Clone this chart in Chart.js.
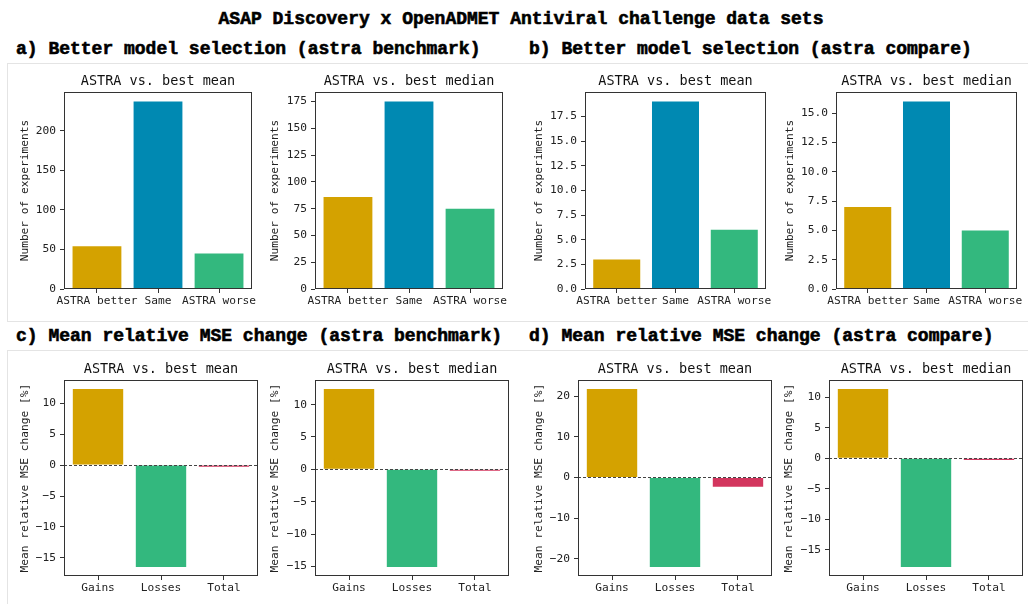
<!DOCTYPE html>
<html>
<head>
<meta charset="utf-8">
<script src="https://cdn.jsdelivr.net/npm/chart.js@4.4.0/dist/chart.umd.min.js"></script>
<style>
  body { margin: 0; background: #fff; width: 1028px; height: 604px; position: relative; overflow: hidden; }
  .head { position: absolute; font-family: 'Liberation Mono', monospace; font-weight: bold; font-size: 18px;
          color: #000; white-space: pre; line-height: 20px; -webkit-text-stroke: 0.6px #000; }
  .box { position: absolute; border: 1px solid #e4e4e4; }
  canvas { position: absolute; }
</style>
</head>
<body>
<div class="box" style="left:7px;top:63px;width:1040px;height:257px"></div>
<div class="box" style="left:7px;top:350px;width:1040px;height:300px"></div>

<div class="head" style="left:0;width:1042px;text-align:center;top:9px">ASAP Discovery x OpenADMET Antiviral challenge data sets</div>
<div class="head" style="left:16px;top:39px">a) Better model selection (astra benchmark)</div>
<div class="head" style="left:529px;top:39px">b) Better model selection (astra compare)</div>
<div class="head" style="left:16px;top:326px">c) Mean relative MSE change (astra benchmark)</div>
<div class="head" style="left:529px;top:326px">d) Mean relative MSE change (astra compare)</div>

<script>
// categories
const countCats = ['ASTRA better', 'Same', 'ASTRA worse'];
const mseCats = ['Gains', 'Losses', 'Total'];

// a) astra benchmark, number of experiments
const benchMeanCounts = [54, 237, 45];
const benchMedianCounts = [86, 175, 75];
// b) astra compare, number of experiments
const compareMeanCounts = [3, 19, 6];
const compareMedianCounts = [7, 16, 5];
// c) astra benchmark, mean relative MSE change [%]
const benchMeanMse = [12.3, -16.5, -0.25];
const benchMedianMse = [12.4, -15.1, -0.2];
// d) astra compare, mean relative MSE change [%]
const compareMeanMse = [21.7, -22.0, -2.3];
const compareMedianMse = [11.3, -17.8, -0.3];

// y tick labels
const ticksBenchMean = [0, 50, 100, 150, 200];
const ticksBenchMedian = [0, 25, 50, 75, 100, 125, 150, 175];
const ticksCompareMean = [0, 2.5, 5, 7.5, 10, 12.5, 15, 17.5];
const ticksCompareMedian = [0, 2.5, 5, 7.5, 10, 12.5, 15];
const ticksMseBench = [-15, -10, -5, 0, 5, 10];
const ticksMseCompareMean = [-20, -10, 0, 10, 20];
const ticksMseCompareMedian = [-15, -10, -5, 0, 5, 10];

const GOLD = '#d4a200', BLUE = '#0089b2', GREEN = '#33b87e', RED = '#d3365e';
const countColors = [GOLD, BLUE, GREEN];
const mseColors = [GOLD, GREEN, RED];

const MONO = "'DejaVu Sans Mono', monospace";
Chart.defaults.font.family = MONO;

const framePlugin = {
  id: 'frame',
  afterDraw(chart) {
    const { ctx, chartArea: a } = chart;
    ctx.save();
    ctx.strokeStyle = '#333';
    ctx.lineWidth = 1;
    ctx.strokeRect(Math.round(a.left) + 0.5, Math.round(a.top) + 0.5,
      Math.round(a.right) - Math.round(a.left) - 1, Math.round(a.bottom) - Math.round(a.top) - 1);
    ctx.restore();
  }
};

const zeroLinePlugin = {
  id: 'zeroLine',
  afterDatasetsDraw(chart, args, opts) {
    if (!opts.show) return;
    const { ctx, chartArea: a } = chart;
    const y = Math.round(chart.scales.y.getPixelForValue(0)) + 0.5;
    ctx.save();
    ctx.strokeStyle = '#444';
    ctx.lineWidth = 1;
    ctx.setLineDash([3, 2]);
    ctx.beginPath();
    ctx.moveTo(a.left, y);
    ctx.lineTo(a.right, y);
    ctx.stroke();
    ctx.restore();
  }
};

function fmt(dec) {
  return v => (v < 0 ? '\u2212' : '') + Math.abs(v).toFixed(dec);
}

// plot = [left, top, right, bottom] of the axes box in page pixels
function makeChart(plot, yOff, padR, title, yTitle, cats, vals, colors, ticks, dec, isMse) {
  const [left, top, right, bottom] = plot;
  const cx = left - (yOff + 7);
  const cy = top - 19;
  const W = right + padR - cx;
  const H = bottom + 25 - cy;
  const cv = document.createElement('canvas');
  cv.width = W; cv.height = H;
  cv.style.left = cx + 'px';
  cv.style.top = cy + 'px';
  document.body.appendChild(cv);

  let lo = Math.min(0, ...vals), hi = Math.max(0, ...vals);
  let yMin, yMax;
  if (isMse) {
    const pad = (hi - lo) * 0.05;
    yMin = lo - pad; yMax = hi + pad;
  } else {
    yMin = 0; yMax = hi * 1.05;
  }
  const tickFont = { family: MONO, size: 11.2 };

  new Chart(cv.getContext('2d'), {
    type: 'bar',
    data: {
      datasets: [{
        data: vals.map((v, i) => ({ x: i, y: v })),
        backgroundColor: colors,
        borderWidth: 0,
        barPercentage: 1,
        categoryPercentage: 0.8
      }]
    },
    options: {
      responsive: false,
      animation: false,
      layout: { padding: { left: 0, top: 0, right: padR, bottom: 0 } },
      plugins: {
        legend: { display: false },
        tooltip: { enabled: false },
        title: {
          display: true,
          text: title,
          fullSize: false,
          color: '#111',
          font: { family: MONO, size: 13.5, weight: 'normal', lineHeight: 1.2 },
          padding: { top: 0, bottom: 3 }
        },
        zeroLine: { show: isMse }
      },
      scales: {
        x: {
          type: 'linear',
          offset: false,
          min: -0.54,
          max: 2.54,
          afterBuildTicks: s => { s.ticks = cats.map((c, i) => ({ value: i })); },
          afterFit: s => { s.height = 25; },
          ticks: {
            callback: v => cats[v],
            font: tickFont,
            color: '#222',
            maxRotation: 0,
            autoSkip: false,
            padding: 1
          },
          grid: { offset: false, drawOnChartArea: false, drawTicks: true, tickLength: 4, color: '#333' },
          border: { display: false }
        },
        y: {
          min: yMin,
          max: yMax,
          afterBuildTicks: s => { s.ticks = ticks.map(v => ({ value: v })); },
          afterFit: s => { s.width = yOff + 7; },
          ticks: { callback: fmt(dec), font: tickFont, color: '#222', padding: 4 },
          grid: { drawOnChartArea: false, drawTicks: true, tickLength: 4, color: '#333' },
          border: { display: false },
          title: { display: true, text: yTitle, font: tickFont, color: '#222', padding: 0 }
        }
      }
    },
    plugins: [framePlugin, zeroLinePlugin]
  });
}

const countLabel = 'Number of experiments';
const mseLabel = 'Mean relative MSE change [%]';

makeChart([64, 92, 252, 289], 39, 10, 'ASTRA vs. best mean', countLabel, countCats, benchMeanCounts, countColors, ticksBenchMean, 0, false);
makeChart([315, 92, 503, 289], 40, 10, 'ASTRA vs. best median', countLabel, countCats, benchMedianCounts, countColors, ticksBenchMedian, 0, false);
makeChart([585, 92, 766, 289], 46, 10, 'ASTRA vs. best mean', countLabel, countCats, compareMeanCounts, countColors, ticksCompareMean, 1, false);
makeChart([836, 92, 1017, 289], 46, 10, 'ASTRA vs. best median', countLabel, countCats, compareMedianCounts, countColors, ticksCompareMedian, 1, false);

makeChart([64, 380, 258, 576], 39, 6, 'ASTRA vs. best mean', mseLabel, mseCats, benchMeanMse, mseColors, ticksMseBench, 0, true);
makeChart([315, 380, 509, 576], 40, 6, 'ASTRA vs. best median', mseLabel, mseCats, benchMedianMse, mseColors, ticksMseBench, 0, true);
makeChart([578, 380, 772, 576], 39, 6, 'ASTRA vs. best mean', mseLabel, mseCats, compareMeanMse, mseColors, ticksMseCompareMean, 0, true);
makeChart([829, 380, 1023, 576], 40, 4, 'ASTRA vs. best median', mseLabel, mseCats, compareMedianMse, mseColors, ticksMseCompareMedian, 0, true);
</script>
</body>
</html>
